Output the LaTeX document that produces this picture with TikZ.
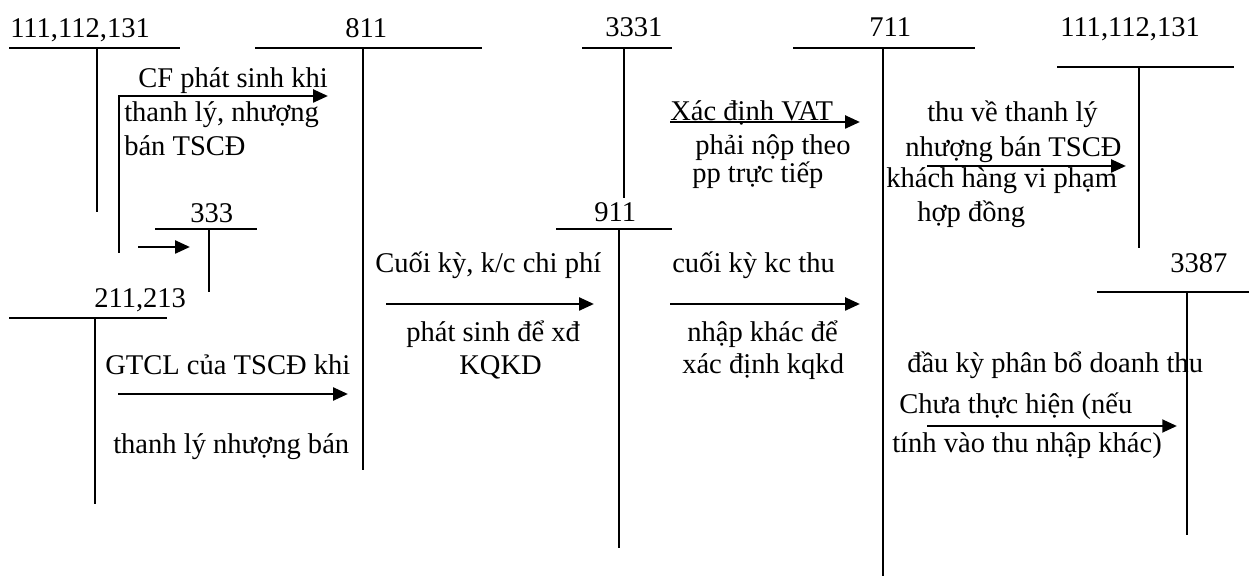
\documentclass[tikz,border=0pt]{standalone}
\usepackage{fontspec}
\setmainfont{Liberation Serif}
\usetikzlibrary{arrows.meta}
\tikzset{>={Triangle[length=10.5pt,width=9pt]}}

\begin{document}
\begin{tikzpicture}[x=0.025cm,y=-0.025cm,
  acc/.style={line width=1.3pt},
  flow/.style={->,line width=2pt},
  txt/.style={font=\fontsize{20.3}{24}\selectfont,inner sep=0pt,anchor=base west}]
\useasboundingbox (0,0) rectangle (1249,576);
% T accounts
\draw[acc] (9,48) -- (180,48) (97,48) -- (97,212);
\node[txt] (t111a) at (10,38) {111,112,131};
\draw[acc] (255,48) -- (482,48) (363,48) -- (363,470);
\node[txt] (t811) at (345,38) {811};
\draw[acc] (582,48) -- (672,48) (624,48) -- (624,198);
\node[txt] (t3331) at (605,37) {3331};
\draw[acc] (793,48) -- (975,48) (883,48) -- (883,576);
\node[txt] (t711) at (869,37) {711};
\draw[acc] (1057,67) -- (1234,67) (1139,67) -- (1139,248);
\node[txt] (t111b) at (1060,37) {111,112,131};
\draw[acc] (155,229) -- (257,229) (209,229) -- (209,292);
\node[txt] (t333) at (190,223) {333};
\draw[acc] (9,318) -- (167,318) (95,318) -- (95,504);
\node[txt] (t211) at (94,308) {211,213};
\draw[acc] (556,229) -- (672,229) (619,229) -- (619,548);
\node[txt] (t911) at (594,222) {911};
\draw[acc] (1097,292) -- (1249,292) (1187,292) -- (1187,535);
\node[txt] (t3387) at (1170,273) {3387};
% arrow ends
\coordinate (cfA) at (119,253); \coordinate (cfB) at (328,96);
\coordinate (vA) at (138,247); \coordinate (vB) at (190,247);
\coordinate (glA) at (118,394); \coordinate (glB) at (348,394);
\coordinate (ckA) at (386,304); \coordinate (ckB) at (594,304);
\coordinate (ktA) at (670,304); \coordinate (ktB) at (860,304);
\coordinate (vatA) at (670,122); \coordinate (vatB) at (860,122);
\coordinate (tvA) at (927,166); \coordinate (tvB) at (1126,166);
\coordinate (dkA) at (927,426); \coordinate (dkB) at (1177,426);
\draw[flow] (cfA) |- (cfB);
\draw[flow] (vA) -- (vB);
\draw[flow] (glA) -- (glB);
\draw[flow] (ckA) -- (ckB);
\draw[flow] (ktA) -- (ktB);
\draw[flow] (vatA) -- (vatB);
\draw[flow] (tvA) -- (tvB);
\draw[flow] (dkA) -- (dkB);
% texts
\node[txt] (cf1) at (138,88) {CF phát sinh khi};
\node[txt] (cf2) at (124,122) {thanh lý, nhượng};
\node[txt] (cf3) at (124,156) {bán TSCĐ};
\node[txt] (gl1) at (105,375) {GTCL của TSCĐ khi};
\node[txt] (gl2) at (113,453) {thanh lý nhượng bán};
\node[txt] (ck1) at (375,273) {Cuối kỳ, k/c chi phí};
\node[txt] (ck2) at (406,342) {phát sinh để xđ};
\node[txt] (ck3) at (459,375) {KQKD};
\node[txt] (vat1) at (670,121) {Xác định VAT};
\node[txt] (vat2) at (695,155) {phải nộp theo};
\node[txt] (vat3) at (692,183) {pp trực tiếp};
\node[txt] (kt1) at (672,273) {cuối kỳ kc thu};
\node[txt] (kt2) at (687,342) {nhập khác để};
\node[txt] (kt3) at (682,374) {xác định kqkd};
\node[txt] (tv1) at (927,122) {thu về thanh lý};
\node[txt] (tv2) at (905,157) {nhượng bán TSCĐ};
\node[txt] (tv3) at (886,188) {khách hàng vi phạm};
\node[txt] (tv4) at (917,222) {hợp đồng};
\node[txt] (dk1) at (907,373) {đầu kỳ phân bổ doanh thu};
\node[txt] (dk2) at (899,413) {Chưa thực hiện (nếu};
\node[txt] (dk3) at (892,452) {tính vào thu nhập khác)};
\end{tikzpicture}
\end{document}
